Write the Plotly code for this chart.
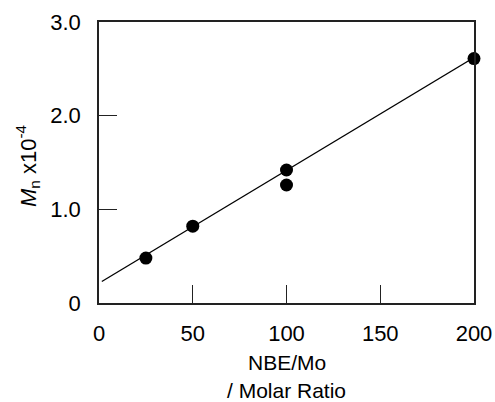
import plotly.graph_objects as go

# Data
ratio = [25, 50, 100, 100, 200]
mn = [0.48, 0.82, 1.42, 1.26, 2.61]
fit_x = [1.5, 200]
fit_y = [0.23, 2.62]

x_ticks = [0, 50, 100, 150, 200]
x_tick_labels = ["0", "50", "100", "150", "200"]
y_ticks = [0, 1, 2, 3]
y_tick_labels = ["0", "1.0", "2.0", "3.0"]

FONT = "Liberation Sans, Arial, Helvetica, sans-serif"
FS = 22

fig = go.Figure()
fig.add_trace(go.Scatter(x=fit_x, y=fit_y, mode="lines",
                         line=dict(color="black", width=1.3), showlegend=False,
                         cliponaxis=False))
fig.add_trace(go.Scatter(x=ratio, y=mn, mode="markers",
                         marker=dict(color="black", size=13), showlegend=False,
                         cliponaxis=False))

axis_common = dict(showgrid=False, zeroline=False, showline=True, linecolor="#222",
                   linewidth=1.5, mirror=True, ticks="inside", ticklen=18,
                   tickwidth=1.3, tickcolor="#222", automargin=False,
                   tickfont=dict(family=FONT, size=FS, color="black"))

fig.update_xaxes(range=[0, 200], tickvals=x_ticks, ticktext=x_tick_labels,
                 ticklabelstandoff=10, **axis_common)
fig.update_yaxes(range=[0, 3], tickvals=y_ticks, ticktext=y_tick_labels,
                 ticklabelstandoff=12, **axis_common)

fig.add_annotation(text="<i>M</i><sub>n</sub> x10<sup>-4</sup>", xref="paper", yref="paper",
                   x=-0.19, y=0.49, textangle=-90, showarrow=False,
                   xanchor="center", yanchor="middle",
                   font=dict(family=FONT, size=FS, color="black"))
fig.add_annotation(text="NBE/Mo", xref="paper", yref="paper",
                   x=0.5, y=-0.212, showarrow=False, xanchor="center", yanchor="middle",
                   font=dict(family=FONT, size=FS - 1, color="black"))
fig.add_annotation(text="/ Molar Ratio", xref="paper", yref="paper",
                   x=0.5, y=-0.31, showarrow=False, xanchor="center", yanchor="middle",
                   font=dict(family=FONT, size=FS - 1, color="black"))

fig.update_layout(width=495, height=402, margin=dict(l=99, r=21, t=22, b=99),
                  plot_bgcolor="white", paper_bgcolor="white",
                  font=dict(family=FONT, size=FS, color="black"))

fig.write_html("out.html", config={"displayModeBar": False},
               post_script="document.body.style.margin='0';document.body.style.overflow='hidden';")
